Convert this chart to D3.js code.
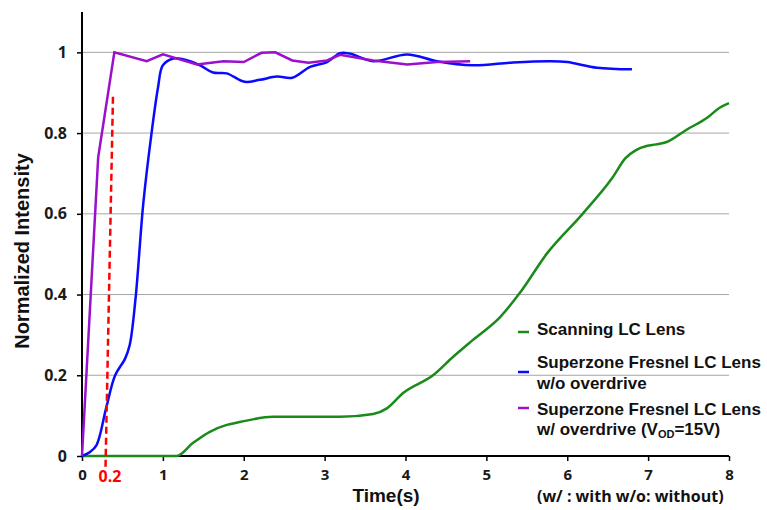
<!DOCTYPE html>
<html><head><meta charset="utf-8">
<script src="https://cdn.jsdelivr.net/npm/d3@7"></script>
<style>body{margin:0;background:#fff}text{font-family:"Liberation Sans",Arial,sans-serif;font-weight:bold}</style>
</head><body><svg id="c" width="767" height="510"></svg>
<script>
const xTicks = [0,1,2,3,4,5,6,7,8];
const yTicks = [0,0.2,0.4,0.6,0.8,1];
const yTickLabels = ["0","0.2","0.4","0.6","0.8","1"];
const seriesNames = ["Scanning LC Lens","Superzone Fresnel LC Lens|w/o overdrive","Superzone Fresnel LC Lens|w/ overdrive"];
const scanning = [[0,0],[1.17,0],[1.37,0.032],[1.58,0.06],[1.79,0.077],[1.95,0.084],[2.36,0.097],[3.19,0.097],[3.6,0.104],[3.77,0.118],[3.97,0.156],[4.34,0.2],[4.59,0.246],[4.83,0.287],[5.17,0.344],[5.41,0.403],[5.75,0.502],[6.19,0.6],[6.56,0.69],[6.72,0.738],[6.85,0.758],[6.98,0.768],[7.1,0.772],[7.23,0.778],[7.48,0.809],[7.73,0.838],[7.88,0.862],[8.0,0.874]];
const noOverdrive = [[0,0],[0.1,0.01],[0.18,0.027],[0.3,0.12],[0.41,0.2],[0.53,0.24],[0.59,0.275],[0.66,0.386],[0.76,0.63],[0.86,0.8],[0.94,0.913],[1.0,0.968],[1.13,0.985],[1.25,0.983],[1.46,0.968],[1.62,0.95],[1.79,0.948],[2.01,0.927],[2.2,0.932],[2.41,0.94],[2.6,0.937],[2.82,0.964],[3.03,0.976],[3.19,0.998],[3.31,0.997],[3.6,0.978],[4.02,0.995],[4.39,0.978],[4.83,0.968],[5.33,0.975],[5.78,0.978],[6.0,0.976],[6.37,0.962],[6.8,0.958]];
const withOverdrive = [[0,0],[0.2,0.74],[0.4,1.0],[0.8,0.978],[1.0,0.995],[1.42,0.97],[1.75,0.978],[2.0,0.976],[2.22,0.999],[2.39,1.0],[2.6,0.98],[2.8,0.974],[3.03,0.98],[3.19,0.994],[3.6,0.98],[4.02,0.97],[4.39,0.976],[4.8,0.978]];
const marker = [[0.383,0.89],[0.29,-0.035]];
const markerLabel = "0.2";

const svg = d3.select("#c");
const x = d3.scaleLinear().domain([0,8]).range([82,729]);
const y = d3.scaleLinear().domain([0,1.1]).range([456,12]);
const tickFont = "'Open Sans','Liberation Sans',Arial,sans-serif";

// gridlines
svg.append("g").selectAll("line").data(yTicks.slice(1)).join("line")
  .attr("x1",x(0)).attr("x2",x(8)).attr("y1",d=>y(d)).attr("y2",d=>y(d))
  .attr("stroke","#a6a6a6").attr("stroke-width",1);

// axes
const xAxis = svg.append("g").attr("transform",`translate(0,${y(0)})`)
  .call(d3.axisBottom(x).tickValues(xTicks).tickSize(5).tickPadding(8).tickFormat(d3.format("d")));
const yAxis = svg.append("g").attr("transform",`translate(${x(0)},0)`)
  .call(d3.axisLeft(y).tickValues(yTicks).tickSize(5).tickPadding(10).tickFormat((d,i)=>yTickLabels[i]));
[xAxis,yAxis].forEach(g=>{
  g.select(".domain").attr("stroke","#000").attr("stroke-width",2);
  g.selectAll(".tick line").attr("stroke","#000").attr("stroke-width",1.5);
  g.selectAll(".tick text").attr("font-size",15).attr("fill","#1a1a1a").style("font-family",tickFont).style("font-weight","bold");
});
yAxis.selectAll(".tick text").attr("font-size",16);
xAxis.select(".domain").attr("d",`M${x(0)},0H${x(8)}`);
yAxis.select(".domain").attr("d",`M0,${y(1.1)}V${y(0)}`);

// lines
const smooth = d3.line().x(d=>x(d[0])).y(d=>y(d[1])).curve(d3.curveMonotoneX);
const smoothB = d3.line().x(d=>x(d[0])).y(d=>y(d[1])).curve(d3.curveCatmullRom.alpha(0.5));
const straight = d3.line().x(d=>x(d[0])).y(d=>y(d[1]));
const colors = ["#1a8a1a","#0a0aff","#9a10cc"];
svg.append("path").attr("d",smooth(scanning)).attr("fill","none").attr("stroke",colors[0]).attr("stroke-width",2.5);
svg.append("path").attr("d",smoothB(noOverdrive)).attr("fill","none").attr("stroke",colors[1]).attr("stroke-width",2.5);
svg.append("path").attr("d",straight(withOverdrive)).attr("fill","none").attr("stroke",colors[2]).attr("stroke-width",2.5);

// red dashed marker
svg.append("path").attr("d",straight(marker)).attr("fill","none").attr("stroke","#ff0000").attr("stroke-width",2.5).attr("stroke-dasharray","7,4");
svg.append("text").attr("x",110).attr("y",482).attr("text-anchor","middle").attr("font-size",16).style("font-family",tickFont).attr("fill","#ff0000").text(markerLabel);

// axis titles
svg.append("text").attr("x",386).attr("y",502).attr("text-anchor","middle").attr("font-size",19).attr("fill","#111").text("Time(s)");
svg.append("text").attr("transform","translate(29,251) rotate(-90)").attr("text-anchor","middle").attr("font-size",20).attr("fill","#111").text("Normalized Intensity");
svg.append("text").attr("x",537).attr("y",502).attr("font-size",16).style("font-family",tickFont).attr("fill","#111").text("(w/ : with w/o: without)");

// legend
const leg = [
  {c:colors[0], ly:332, lines:[[seriesNames[0],335]]},
  {c:colors[1], ly:372, lines:[[seriesNames[1].split("|")[0],368],[seriesNames[1].split("|")[1],389]]},
  {c:colors[2], ly:408, lines:[[seriesNames[2].split("|")[0],415],[seriesNames[2].split("|")[1],435]]}
];
leg.forEach((l,i)=>{
  svg.append("line").attr("x1",518).attr("x2",529).attr("y1",l.ly).attr("y2",l.ly).attr("stroke",l.c).attr("stroke-width",2.5);
  l.lines.forEach(([t,ty],j)=>{
    const tx = svg.append("text").attr("x",537).attr("y",ty).attr("font-size",17).attr("fill","#111");
    if(i===2 && j===1){
      tx.append("tspan").text(t+"  (V");
      tx.append("tspan").attr("font-size",11).attr("dy",3).text("OD");
      tx.append("tspan").attr("dy",-3).text("=15V)");
    } else tx.text(t);
  });
});
</script></body></html>
